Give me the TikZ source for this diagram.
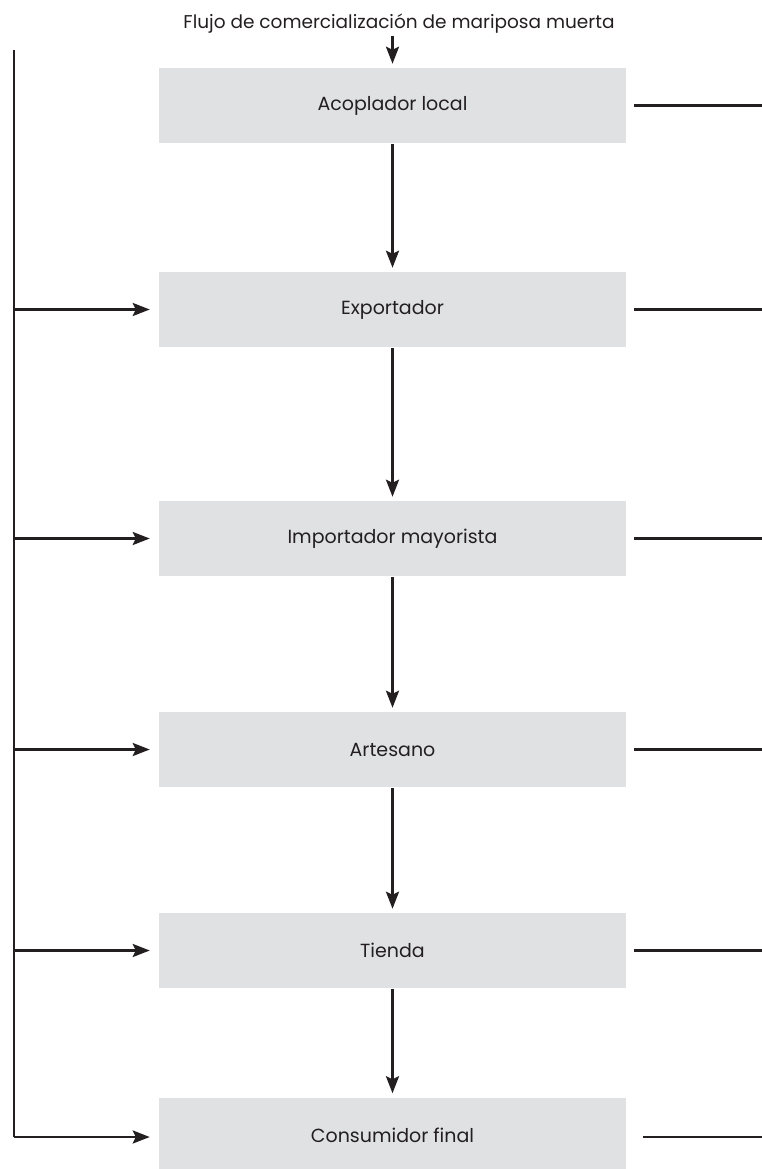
\documentclass[tikz,border=0pt]{standalone}
\usepackage{fontspec}
\setmainfont{Poppins}
\usetikzlibrary{arrows.meta}
\definecolor{boxgray}{HTML}{E0E1E3}
\definecolor{inkblack}{HTML}{231F20}
\tikzset{stage/.style={fill=boxgray,minimum width=467pt,minimum height=75pt,inner sep=0pt,font=\fontsize{19}{22}\selectfont,text=inkblack},
         spur/.style={shorten >=8pt}}

\begin{document}
\begin{tikzpicture}[x=1pt,y=-1pt,->,>={Stealth[length=17pt,width=13pt,inset=3pt]},line width=2.5pt,color=inkblack]
                \useasboundingbox (0,0) rectangle (761,1169);
                \node[font=\fontsize{18.5}{22}\selectfont,inner sep=1pt](title)at(399, 24){Flujo de comercialización de mariposa muerta};
                \node[stage](acop)at(392.5, 105.5){Acoplador local};
                \node[stage](expo)at(392.5, 309.5){Exportador};
                \node[stage](impo)at(392.5, 538.5){Importador mayorista};
                \node[stage](arte)at(392.5, 749.5){Artesano};
                \node[stage](tien)at(392.5, 950.5){Tienda};
                \node[stage](cons)at(392.5, 1135){Consumidor final};
                % left trunk
                \coordinate(trunktop)at(14, 50);
                \coordinate(trunkend)at(14, 1137);
                \draw[-](trunktop) -- (trunkend);
                % main flow
                \draw[shorten >=3pt](title.south -| acop.north) -- (acop.north);
                \path[shorten >=3pt](acop) edge (expo)
                (expo) edge (impo)
                (impo) edge (arte)
                (arte) edge (tien)
                (tien) edge (cons);
                % from the trunk
                \foreach \n in {expo,impo,arte,tien}
                    \draw[spur](trunktop |- \n) -- (\n);
                \draw[spur](trunkend) -- (trunkend -| cons.west);
                % loose ends on the right
                \foreach \n in {acop,expo,impo,arte,tien}
                    \draw[-]([xshift=7pt]\n.east) -- ++(128, 0);
                \draw[-]([xshift=16pt]cons.east |- trunkend) -- ++(119, 0);
            \end{tikzpicture}
\end{document}
